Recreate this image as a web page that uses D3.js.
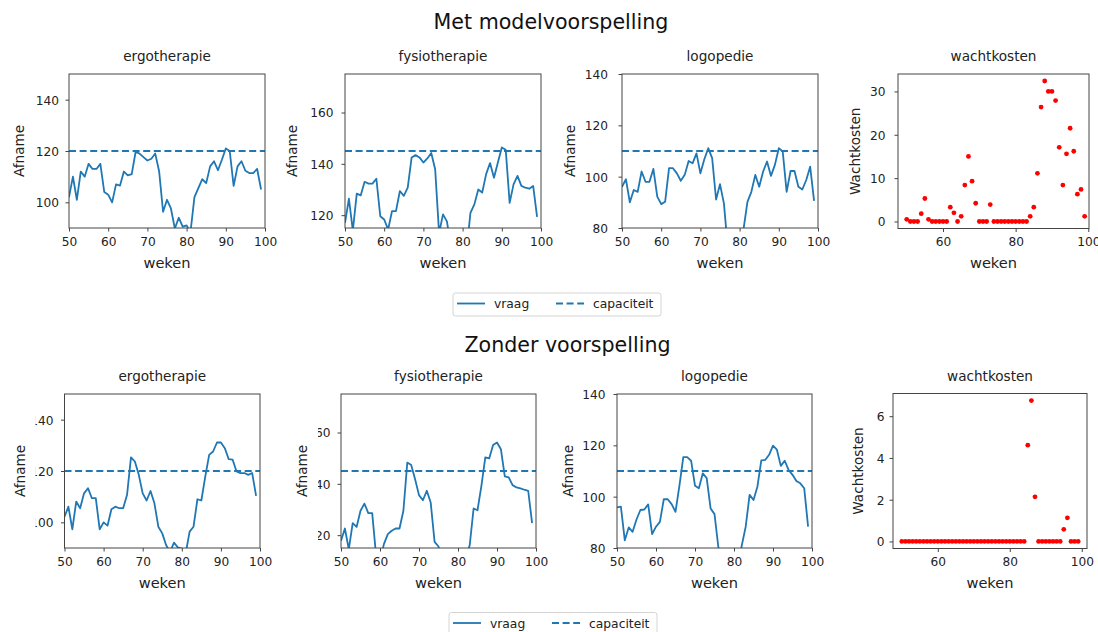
<!DOCTYPE html>
<html>
<head>
<meta charset="utf-8">
<script src="https://cdn.jsdelivr.net/npm/d3@7"></script>
<style>
body { margin: 0; background: #fff; }
svg { font-family: "DejaVu Sans", sans-serif; }
</style>
</head>
<body>
<svg id="chart" width="1098" height="632"></svg>
<script>
const weeks = d3.range(50, 100);
const weekTicks = [50, 60, 70, 80, 90, 100];
const kostenWeekTicks = [60, 80, 100];

const rowTitles = ["Met modelvoorspelling", "Zonder voorspelling"];
const disciplines = ["ergotherapie", "fysiotherapie", "logopedie"];
const capaciteit = [120, 145, 110];
const yRanges = [[90, 150], [115, 175], [80, 140]];
const yTicks = [[100, 120, 140], [120, 140, 160], [80, 100, 120, 140]];

const ergoMet = [102, 110, 101, 112, 110, 115, 113, 113, 115, 104,
  103, 100, 107, 106.5, 112, 110.5, 111, 119.7, 119, 117.6,
  116.3, 117, 119, 112, 96.3, 101, 97.6, 89.8, 94, 90.5,
  91, 88.5, 102, 105.5, 109, 107.5, 114, 116, 112.5, 116.6,
  121, 120, 106.4, 114, 116, 112.3, 111.4, 111.4, 113, 105];
const fysioMet = [117, 126.4, 114, 128.4, 127.7, 133, 132.3, 132.3, 134.2, 119.6,
  118.3, 114.4, 121.6, 121.6, 129.4, 127.5, 130.7, 142.5, 143.4, 142.5,
  140.5, 142.1, 144.2, 137.9, 113, 120.3, 117.6, 108, 112, 108,
  109, 106, 120.9, 124.2, 130, 128.8, 136, 140.3, 134.6, 140.5,
  146.4, 145.5, 124.8, 132, 135.3, 131.4, 130.7, 130.3, 131.4, 119.3];
const logoMet = [96, 99, 90, 94.8, 94.1, 102, 98, 98, 103, 92.2,
  89.3, 90.2, 103.3, 103.3, 101.3, 98.4, 100.7, 106.1, 105.2, 109.1,
  101.3, 106.8, 111.1, 107.2, 91.1, 97.1, 89.6, 72, 72, 75,
  74, 79.5, 90.2, 94.1, 100.7, 96.1, 102, 105.9, 100.3, 104.6,
  111.1, 109.8, 94.1, 102.2, 102.2, 96.1, 95, 98.7, 103.9, 90.6];
const kostenMet = [0.5, 0, 0, 0, 1.8, 5.3, 0.5, 0, 0, 0,
  0, 0, 3.3, 2, 0, 1.2, 8.4, 15, 9.3, 4.2,
  0, 0, 0, 3.9, 0, 0, 0, 0, 0, 0,
  0, 0, 0, 0, 1.2, 3.3, 11.1, 26.4, 32.4, 30,
  30, 27.9, 17.1, 8.4, 15.6, 21.5, 16.2, 6.3, 7.4, 1.2];

const ergoZonder = [102.2, 106.1, 97.3, 108.1, 105.5, 111.3, 113.3, 109.4, 109.4, 97.3,
  100, 98.7, 105.1, 106.1, 105.5, 105.5, 110.7, 125.3, 123.7, 118.5,
  111.3, 108.5, 112.2, 107.4, 98.3, 95.7, 91.1, 88.5, 92.1, 90.2,
  89.8, 87.9, 96.4, 98.3, 109, 108.5, 117.8, 126.3, 127.6, 131.1,
  131.1, 128.9, 124.6, 124.4, 119.8, 119.2, 119.2, 118.5, 119.2, 110.3];
const fysioZonder = [117.8, 122.6, 114.5, 124.7, 123.2, 129.5, 132.3, 128.6, 128.6, 112,
  110, 116.5, 120.4, 121.7, 122.6, 122.6, 129.5, 148.3, 147.3, 141.8,
  135.6, 133.6, 137.3, 132.7, 117.4, 115.6, 110, 106, 109, 107,
  106, 108, 112, 116, 130.4, 129.7, 139.2, 150.3, 149.9, 155.1,
  156.1, 153.5, 142.9, 142.5, 139.5, 138.6, 138.2, 137.7, 137.3, 124.7];
const logoZonder = [95.8, 96.1, 83, 88, 86.3, 91.1, 94.8, 95, 97, 85.4,
  88.3, 90.2, 99, 99, 97.1, 94.1, 104.2, 115.4, 115.4, 114,
  104.3, 103.3, 109.1, 107.2, 95.4, 93.2, 80.2, 75, 72, 73,
  74, 72, 81, 88.3, 100.7, 98.7, 103.9, 114.1, 114.3, 116.3,
  119.9, 118.3, 112, 114, 110.4, 108.5, 106.1, 105.2, 103.3, 88.3];
const kostenZonder = [0, 0, 0, 0, 0, 0, 0, 0, 0, 0,
  0, 0, 0, 0, 0, 0, 0, 0, 0, 0,
  0, 0, 0, 0, 0, 0, 0, 0, 0, 0,
  0, 0, 0, 0, 0, 4.61, 6.75, 2.14, 0, 0,
  0, 0, 0, 0, 0, 0.58, 1.13, 0, 0, 0];
const kostenTicksMet = [0, 10, 20, 30];
const kostenTicksZonder = [0, 2, 4, 6];

const lineColor = "#1f77b4";
const spineColor = "#444";
const textColor = "#222";

const frames = [
  [{ l: 69, r: 265, t: 74, b: 228, gap: 10, yl: 23.5, clip: null },
   { l: 345, r: 541, t: 74, b: 228, gap: 11.5, yl: 297, clip: null },
   { l: 622, r: 818, t: 74, b: 228, gap: 14, yl: 575, clip: null },
   { l: 898, r: 1089, t: 74, b: 228.5, gap: 12.5, yl: 860, clip: null }],
  [{ l: 64.5, r: 260, t: 394, b: 548, gap: 11, yl: 25, clip: 35.5 },
   { l: 341, r: 536, t: 394, b: 548, gap: 10.5, yl: 306.5, clip: 318 },
   { l: 617, r: 812, t: 394, b: 548, gap: 11.5, yl: 573, clip: null },
   { l: 893, r: 1087, t: 393.5, b: 548.5, gap: 8.5, yl: 863, clip: null }]
];
const rowTitleX = [551, 567.5];
const rowTitleY = [29, 352];
const legendBoxes = [{ x: 453, y: 293 }, { x: 449, y: 612.5 }];

const series = [[ergoMet, fysioMet, logoMet], [ergoZonder, fysioZonder, logoZonder]];
const kosten = [kostenMet, kostenZonder];
const kostenTicks = [kostenTicksMet, kostenTicksZonder];
const kostenXDomains = [[47.6, 100.2], [47.55, 101.45]];

const svg = d3.select("#chart");
const defs = svg.append("defs");
let clipId = 0;

const styleAxis = (g, size) => {
  g.select(".domain").remove();
  g.selectAll(".tick line").attr("stroke", spineColor).attr("stroke-width", 1);
  g.selectAll(".tick text").attr("fill", textColor).attr("font-size", size)
    .attr("font-family", "DejaVu Sans, sans-serif");
};

const drawFrame = (f, title, yLabel, xScale, yScale, xTicks, yTickVals) => {
  const xAxis = svg.append("g")
    .attr("transform", `translate(0,${f.b})`)
    .call(d3.axisBottom(xScale).tickValues(xTicks).tickSize(3.5).tickPadding(5.5).tickFormat(d3.format("d")));
  styleAxis(xAxis, 12.2);

  const yAxis = svg.append("g")
    .attr("transform", `translate(${f.l},0)`)
    .call(d3.axisLeft(yScale).tickValues(yTickVals).tickSize(3.5).tickPadding(f.gap - 3.5).tickFormat(d3.format("d")));
  styleAxis(yAxis, 12.2);
  yAxis.selectAll(".tick text").attr("dy", "0.36em");

  // some tick labels are cut off in the reference
  if (f.clip !== null) {
    const id = "lab" + (clipId++);
    defs.append("clipPath").attr("id", id)
      .append("rect").attr("x", f.clip - f.l).attr("y", f.t - 20)
      .attr("width", f.l - f.clip).attr("height", f.b - f.t + 40);
    yAxis.attr("clip-path", `url(#${id})`);
  }

  svg.append("rect")
    .attr("x", f.l).attr("y", f.t)
    .attr("width", f.r - f.l).attr("height", f.b - f.t)
    .attr("fill", "none").attr("stroke", spineColor).attr("stroke-width", 1);

  svg.append("text")
    .attr("x", (f.l + f.r) / 2).attr("y", f.t - 13)
    .attr("text-anchor", "middle").attr("font-size", 13.6).attr("fill", textColor)
    .text(title);

  svg.append("text")
    .attr("x", (f.l + f.r) / 2).attr("y", f.b + 39.5)
    .attr("text-anchor", "middle").attr("font-size", 14.6).attr("fill", textColor)
    .text("weken");

  svg.append("text")
    .attr("transform", `translate(${f.yl},${(f.t + f.b) / 2}) rotate(-90)`)
    .attr("text-anchor", "middle").attr("font-size", 13.6).attr("fill", textColor)
    .text(yLabel);
};

for (let row = 0; row < 2; row++) {
  svg.append("text")
    .attr("x", rowTitleX[row]).attr("y", rowTitleY[row])
    .attr("text-anchor", "middle").attr("font-size", 20.6).attr("fill", "#111")
    .text(rowTitles[row]);

  for (let col = 0; col < 3; col++) {
    const f = frames[row][col];
    const x = d3.scaleLinear().domain([50, 100]).range([f.l, f.r]);
    const y = d3.scaleLinear().domain(yRanges[col]).range([f.b, f.t]);

    const id = "plot" + (clipId++);
    defs.append("clipPath").attr("id", id)
      .append("rect").attr("x", f.l).attr("y", f.t)
      .attr("width", f.r - f.l).attr("height", f.b - f.t);

    const g = svg.append("g").attr("clip-path", `url(#${id})`);
    const values = series[row][col];

    g.append("path")
      .datum(weeks)
      .attr("fill", "none")
      .attr("stroke", lineColor)
      .attr("stroke-width", 1.8)
      .attr("stroke-linejoin", "round")
      .attr("d", d3.line().x(d => x(d)).y((d, i) => y(values[i])));

    g.append("line")
      .attr("x1", x(50)).attr("x2", x(100))
      .attr("y1", y(capaciteit[col])).attr("y2", y(capaciteit[col]))
      .attr("stroke", lineColor).attr("stroke-width", 1.8)
      .attr("stroke-dasharray", "7,3.6");

    drawFrame(f, disciplines[col], "Afname", x, y, weekTicks, yTicks[col]);
  }

  // wachtkosten scatter
  const f = frames[row][3];
  const kv = kosten[row];
  const maxK = d3.max(kv);
  const x = d3.scaleLinear().domain(kostenXDomains[row]).range([f.l, f.r]);
  const y = d3.scaleLinear().domain([-0.05 * maxK, 1.05 * maxK]).range([f.b, f.t]);

  svg.append("g").selectAll("circle")
    .data(weeks)
    .join("circle")
      .attr("cx", d => x(d))
      .attr("cy", (d, i) => y(kv[i]))
      .attr("r", 2.4)
      .attr("fill", "#ff0000");

  drawFrame(f, "wachtkosten", "Wachtkosten", x, y, kostenWeekTicks, kostenTicks[row]);

  // legend
  const lb = legendBoxes[row];
  const lg = svg.append("g").attr("transform", `translate(${lb.x},${lb.y})`);
  lg.append("rect")
    .attr("width", 208).attr("height", 23).attr("rx", 2.5)
    .attr("fill", "#fff").attr("stroke", "#d4d4d4").attr("stroke-width", 1);
  const items = [{ name: "vraag", dash: null, x: 4 }, { name: "capaciteit", dash: "7,3.6", x: 103 }];
  items.forEach(it => {
    lg.append("line")
      .attr("x1", it.x).attr("x2", it.x + 28)
      .attr("y1", 10.5).attr("y2", 10.5)
      .attr("stroke", lineColor).attr("stroke-width", 1.8)
      .attr("stroke-dasharray", it.dash);
    lg.append("text")
      .attr("x", it.x + 37).attr("y", 15)
      .attr("font-size", 12.3).attr("fill", textColor)
      .text(it.name);
  });
}
</script>
</body>
</html>
